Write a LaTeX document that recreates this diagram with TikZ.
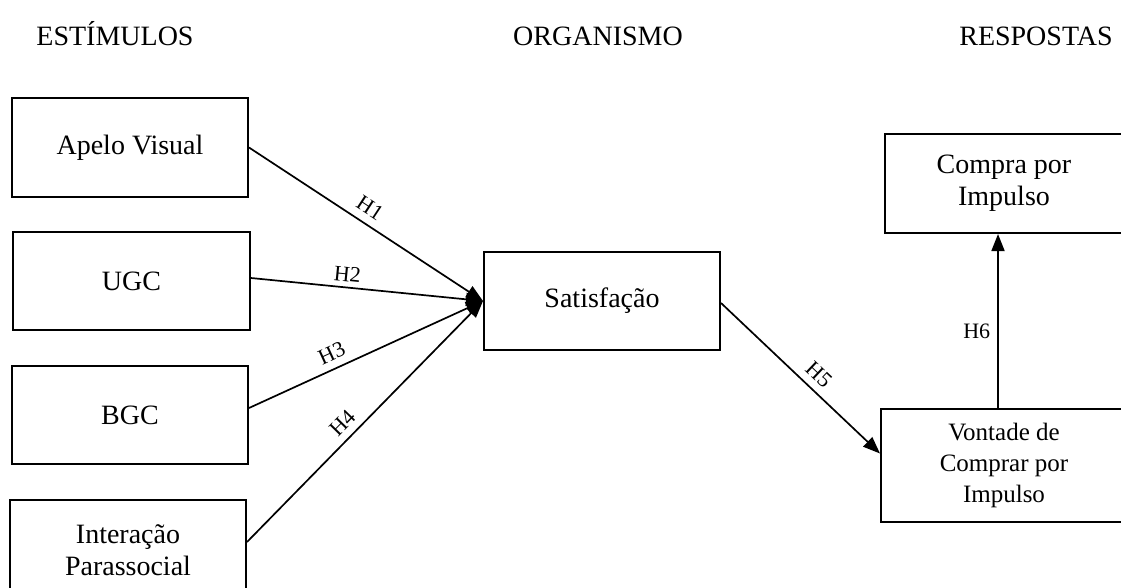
\documentclass[tikz,border=0pt]{standalone}
\usepackage{fontspec}
\setmainfont{Liberation Serif}
\usetikzlibrary{arrows.meta,calc}
\tikzset{
  box/.style={draw, line width=2pt, align=center, inner sep=0pt,
    font=\fontsize{28}{32}\selectfont},
  arr/.style={line width=1.7pt, -{Triangle[length=17pt,width=13pt]}},
  hlab/.style={font=\fontsize{22}{24}\selectfont, inner sep=2pt},
  title/.style={font=\fontsize{28}{32}\selectfont, anchor=base, inner sep=0pt}
}
\begin{document}
\begin{tikzpicture}[x=1pt,y=1pt]
\useasboundingbox (0,0) rectangle (1121,-587);
\clip (0,0) rectangle (1121,-587);
\node[title] (t1) at (115,-45) {ESTÍMULOS};
\node[title] (t2) at (598,-45) {ORGANISMO};
\node[title] (t3) at (1036,-45) {RESPOSTAS};

\node[box, minimum width=236pt, minimum height=99pt] (ape) at (130,-147.5) {Apelo Visual};
\node[box, minimum width=237pt, minimum height=98pt] (ugc) at (131.5,-281) {UGC};
\node[box, minimum width=236pt, minimum height=98pt] (bgc) at (130,-415) {BGC};
\node[box, minimum width=236pt, minimum height=100pt] (int) at (128,-550) {Interação\\Parassocial};
\node[box, minimum width=236pt, minimum height=98pt] (sat) at (602,-301) {Satisfação};
\node[box, minimum width=238pt, minimum height=99pt] (com) at (1004,-183.5) {Compra por\\Impulso};
\node[box, minimum width=246pt, minimum height=113pt, font=\fontsize{25}{31}\selectfont] (von) at (1004,-465.5) {Vontade de\\Comprar por\\Impulso};

\draw[arr] (ape.east) -- node[hlab, sloped, above=6pt, pos=0.48] {H1} (sat.west);
\draw[arr] ([yshift=3pt]ugc.east) -- node[hlab, sloped, above=3pt, pos=0.41] {H2} (sat.west);
\draw[arr] ([yshift=7pt]bgc.east) -- node[hlab, sloped, above=5pt, pos=0.38] {H3} (sat.west);
\draw[arr] ([yshift=8pt]int.east) -- node[hlab, sloped, above=5pt, pos=0.45] {H4} (sat.west);
\draw[arr] ([yshift=-2pt]sat.east) -- node[hlab, sloped, above=5pt, pos=0.55] {H5} ([yshift=12pt]von.west);
\draw[arr] ([xshift=-6pt]von.north) -- node[hlab, left=5pt, pos=0.44] {H6} ([xshift=-6pt]com.south);
\end{tikzpicture}
\end{document}
